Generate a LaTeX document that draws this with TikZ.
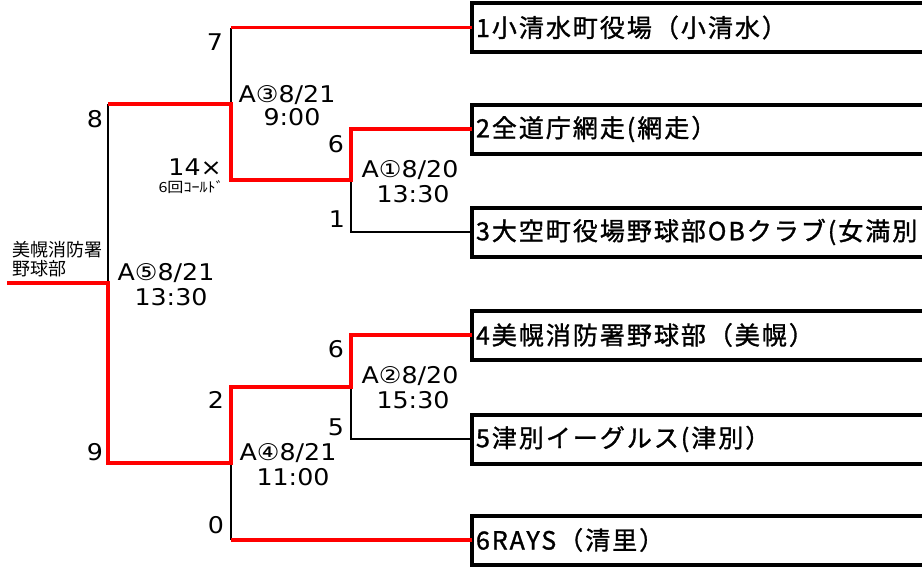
\documentclass[tikz,border=0pt]{standalone}
\usepackage{fontspec}
\newfontfamily\jp{Noto Sans CJK JP}
\newfontfamily\jps[FakeStretch=1.15]{Noto Sans CJK JP}
\newfontfamily\jpw[LetterSpace=8,FakeBold=1.2]{Noto Sans CJK JP}
\newfontfamily\num[FakeStretch=1.1]{DejaVu Sans}
\begin{document}
\begin{tikzpicture}[x=1pt,y=-1pt,
  team/.style={draw=black, line width=4pt, outer sep=0pt, anchor=west,
    minimum height=49pt, text width=492pt, align=left, inner xsep=4pt,
    inner ysep=0pt, font=\jpw\fontsize{25}{28}\selectfont},
  win/.style={draw=red, line width=3.5pt, line join=miter},
  lose/.style={draw=black, line width=1.6pt},
  sc/.style={inner sep=0pt, anchor=base, font=\num\fontsize{23}{26}\selectfont},
  small/.style={inner sep=0pt, font=\jps\fontsize{14}{15}\selectfont},
  lab/.style={inner sep=0pt, font=\jp\fontsize{18}{20}\selectfont}]
\useasboundingbox (0,0) rectangle (922,566);
\fill[white] (0,0) rectangle (922,566);
\clip (0,0) rectangle (922,566);

% team boxes
\node[team] (t1) at (472,27.5) {1小清水町役場（小清水）};
\node[team] (t2) at (472,129) {2全道庁網走(網走）};
\node[team] (t3) at (472,232) {3大空町役場野球部OBクラブ(女満別};
\node[team] (t4) at (472,335) {4美幌消防署野球部（美幌）};
\node[team] (t5) at (472,439) {5津別イーグルス(津別）};
\node[team] (t6) at (472,540) {6RAYS（清里）};

% junctions
\coordinate (a1) at (351,180);
\coordinate (a2) at (351,387);
\coordinate (a3) at (231,104);
\coordinate (a4) at (231,463);
\coordinate (a5) at (108,283);
\coordinate (w) at (7,283);

% losing lines
\draw[lose] (a3 |- t1.west) -- (a3);
\draw[lose] (a5 |- a3) -- (a5);
\draw[lose] (t3.west) -- (a1 |- t3.west) -- (a1);
\draw[lose] (t5.west) -- (a2 |- t5.west) -- (a2);
\draw[lose] (a4 |- t6.west) -- (a4);

% winning lines
\draw[win] (t1.west) -- (a3 |- t1.west);
\draw[win] (t2.west) -- (a1 |- t2.west) -- (a1) -- (a3 |- a1) -- (a3) -- (a5 |- a3);
\draw[win] (t4.west) -- (a2 |- t4.west) -- (a2) -- (a4 |- a2) -- (a4) -- (a5 |- a4) -- (a5) -- (w);
\draw[win] (t6.west) -- (a4 |- t6.west);

% scores and match labels
\node[sc] (s7) at (215,50) {7};
\node[sc] (d3) at (287,102) {A③8/21};
\node[sc] (h3) at (292,125) {9:00};
\node[sc] (s6a) at (336,152) {6};
\node[sc, anchor=base east] (s14) at (222,175) {14×};
\node[small, anchor=base east] (cold) at (224,192) {6回ｺｰﾙﾄﾞ};
\node[sc] (d1) at (410,177) {A①8/20};
\node[sc] (h1) at (413,202) {13:30};
\node[sc] (s1) at (337,227) {1};
\node[sc] (s8) at (95,127) {8};
\node[lab, anchor=base west] (n1) at (12,256) {美幌消防署};
\node[lab, anchor=base west] (n2) at (12,275) {野球部};
\node[sc] (d5) at (166,280) {A⑤8/21};
\node[sc] (h5) at (171,305) {13:30};
\node[sc] (s9) at (95,460) {9};
\node[sc] (s2) at (216,408) {2};
\node[sc] (d4) at (288,460) {A④8/21};
\node[sc] (h4) at (293,485) {11:00};
\node[sc] (s0) at (216,533) {0};
\node[sc] (s6b) at (336,357) {6};
\node[sc] (d2) at (410,383) {A②8/20};
\node[sc] (h2) at (413,408) {15:30};
\node[sc] (s5) at (336,435) {5};
\end{tikzpicture}
\end{document}
